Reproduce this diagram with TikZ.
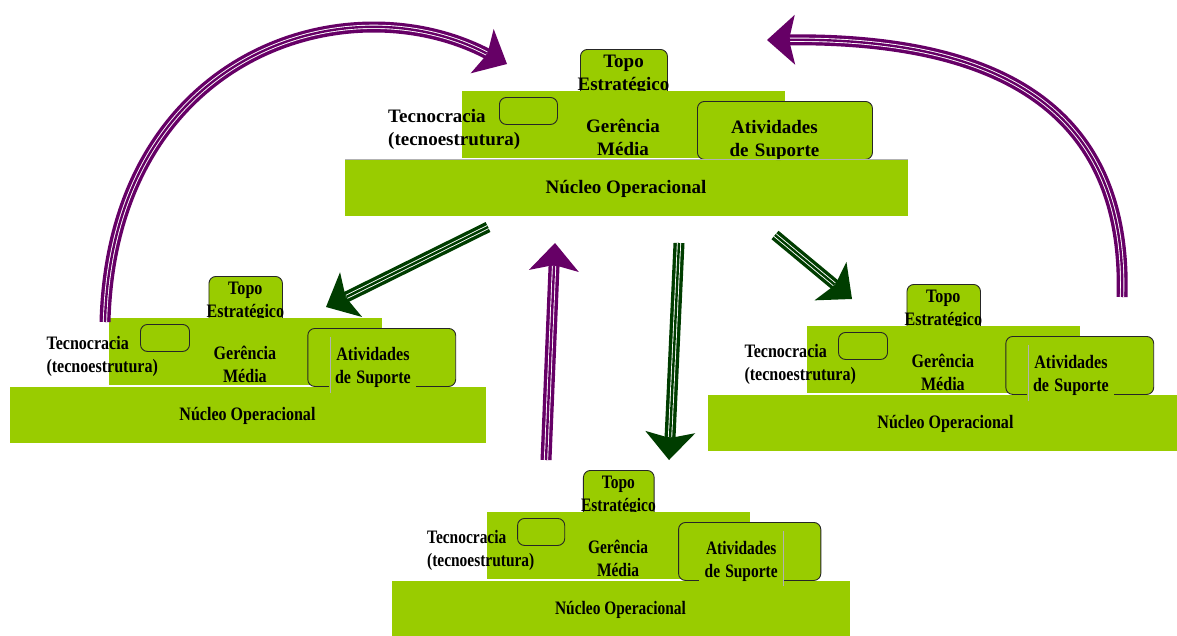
\documentclass[tikz,border=0pt]{standalone}
\usepackage{fontspec}
\setmainfont{Liberation Serif}
\usetikzlibrary{arrows.meta}

\definecolor{leaf}{RGB}{153,204,0}
\definecolor{plum}{RGB}{102,0,102}
\definecolor{pine}{RGB}{0,61,0}

\tikzset{
  lbl/.style={font=\bfseries\fontsize{19}{23}\selectfont, inner sep=0pt, transform shape},
  block/.style={fill=leaf, draw=none, inner sep=0pt, transform shape},
  panel/.style={fill=leaf, draw=black!85, line width=0.9pt, rounded corners=7pt,
                inner sep=0pt, transform shape},
  seam/.style={draw=black!30, line width=0.6pt},
  shaft/.style={draw=#1, line width=11pt,
                -{Stealth[length=28pt,width=50pt,inset=6pt,line width=0pt]}},
  stripes/.style={draw=white, line width=0.9pt, double=#1, double distance=2.4pt,
                  shorten >=23pt},
}

% one organisation: five parts drawn around the operating core
% #1 name, #2/#3 top-left corner of the core, #4 horizontal scale, #5 extra strokes
% (free two-line labels sit on the baseline of their last line,
%  the fixed-width support label on the baseline of its first line)
\newcommand\estrutura[5]{%
  \begin{scope}[shift={(#2,#3)}, xscale=#4]
    \node[panel, anchor=north west, minimum width=87pt, minimum height=60pt]
      (#1-topbox) at (235,-111) {};
    \node[lbl, anchor=base, align=center] (#1-topo) at (278.5,-69.5) {Topo\\Estratégico};
    \node[block, anchor=north west, minimum width=323pt, minimum height=67pt]
      (#1-mid) at (117,-69) {};
    \node[block, anchor=north west, minimum width=563pt, minimum height=56pt]
      (#1-base) at (0,0) {};
    \node[panel, anchor=north west, minimum width=58pt, minimum height=27pt]
      (#1-tecbox) at (154,-63) {};
    \node[panel, anchor=north west, minimum width=175pt, minimum height=58pt]
      (#1-apoiobox) at (352,-59) {};
    \node[lbl, anchor=base, align=center, fill=leaf, text width=97pt,
          inner xsep=3pt, inner ysep=2pt] (#1-apoio) at (429.5,-27)
      {Atividades\\de Suporte};
    #5
    \node[lbl, anchor=base, align=center] (#1-media) at (278,-5) {Gerência\\Média};
    \node[lbl, anchor=base west, align=left] (#1-tec) at (43,-15)
      {Tecnocracia\\(tecnoestrutura)};
    \node[lbl, anchor=base] (#1-nucleo) at (281,33) {Núcleo Operacional};
  \end{scope}}

% a striped arrow along the given path
\newcommand\ribbon[2]{\draw[shaft=#1] #2; \draw[stripes=#1] #2;}

\begin{document}
\begin{tikzpicture}[x=1pt,y=-1pt]
  \useasboundingbox (0,0) rectangle (1177,635);

  \estrutura{centro}{345}{160}{1}{\draw[seam] (0,-0.5) -- (563,-0.5);}
  \estrutura{esq}{10}{387}{0.845}{\draw[seam] (379,-50) -- (379,6);}
  \estrutura{dir}{708}{395}{0.845}{\draw[seam] (379,-50) -- (379,6);}
  \estrutura{baixo}{392}{581}{0.813}{\draw[seam] (481,-50) -- (481,5);}

  % arrow end points
  \coordinate (arcEsqA) at (105,322);
  \coordinate (arcEsqB) at (507,64);
  \coordinate (arcDirA) at (1122,297);
  \coordinate (arcDirB) at (767,40);
  \coordinate (sobeA) at (546,460);
  \coordinate (sobeB) at (555,243);
  \coordinate (desceEsqA) at (488,227);
  \coordinate (desceEsqB) at (326,307);
  \coordinate (desceA) at (679,243);
  \coordinate (desceB) at (669,460);
  \coordinate (desceDirA) at (775,235);
  \coordinate (desceDirB) at (852,299);

  % feedback towards the central organisation
  \ribbon{plum}{(arcEsqA) .. controls (112,55) and (345,-20) .. (arcEsqB)}
  \ribbon{plum}{(arcDirA) .. controls (1128,110) and (1000,38) .. (arcDirB)}
  \ribbon{plum}{(sobeA) -- (sobeB)}

  % spread from the central organisation
  \ribbon{pine}{(desceEsqA) -- (desceEsqB)}
  \ribbon{pine}{(desceA) -- (desceB)}
  \ribbon{pine}{(desceDirA) -- (desceDirB)}
\end{tikzpicture}
\end{document}
